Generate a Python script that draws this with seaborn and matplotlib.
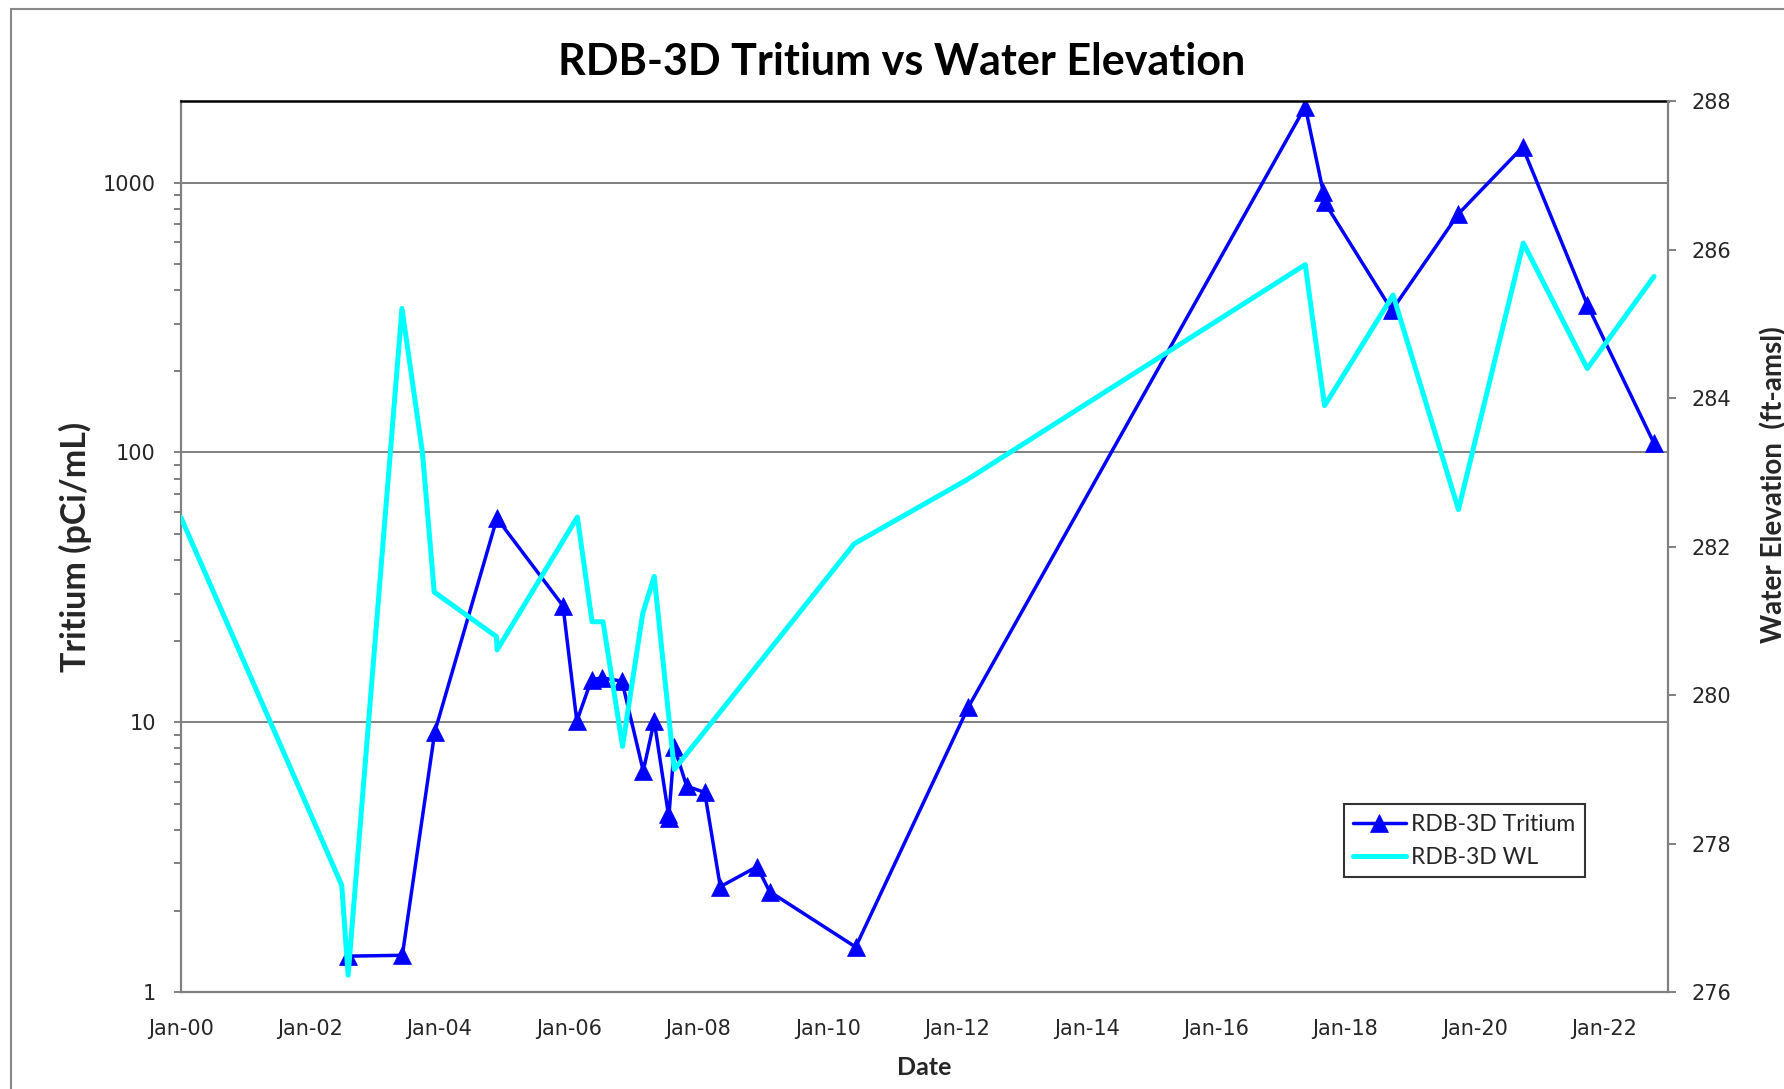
import matplotlib
matplotlib.use('Agg')
import matplotlib.pyplot as plt
import matplotlib.dates as mdates
from matplotlib.ticker import FixedLocator, FuncFormatter, NullFormatter
import pandas as pd
import seaborn as sns

# Tritium samples (pCi/mL)
tritium_dates = ['2002-08-03', '2003-06-05', '2003-12-05', '2004-11-20', '2005-11-28',
                 '2006-02-14', '2006-05-08', '2006-07-08', '2006-10-27', '2007-02-24',
                 '2007-04-27', '2007-07-16', '2007-07-18', '2007-08-18', '2007-10-27',
                 '2008-02-06', '2008-05-04', '2008-11-28', '2009-02-06', '2010-06-07',
                 '2012-03-03', '2017-05-19', '2017-08-29', '2017-09-05', '2018-09-20',
                 '2019-10-01', '2020-09-27', '2021-09-27', '2022-10-09']
tritium_vals = [1.36, 1.37, 9.2, 57, 27,
                10.1, 14.4, 14.6, 14.2, 6.6,
                10.1, 4.56, 4.42, 8.1, 5.8,
                5.5, 2.46, 2.92, 2.36, 1.47,
                11.35, 1910, 920, 845, 336,
                766, 1352, 353, 108]

# Water level (ft-amsl)
wl_dates = ['2000-01-01', '2002-06-28', '2002-08-03', '2003-06-03', '2003-09-27',
            '2003-12-02', '2004-11-17', '2004-11-21', '2006-02-17', '2006-05-11',
            '2006-07-12', '2006-10-30', '2007-02-21', '2007-04-27', '2007-08-18',
            '2010-05-30', '2012-02-24', '2017-05-19', '2017-09-05', '2018-09-27',
            '2019-10-01', '2020-10-01', '2021-09-27', '2022-10-09']
wl_vals = [282.40, 277.44, 276.23, 285.21, 283.26,
           281.39, 280.79, 280.61, 282.40, 280.99,
           280.99, 279.31, 281.10, 281.60, 279.00,
           282.04, 282.90, 285.80, 283.90, 285.39,
           282.50, 286.09, 284.40, 285.64]

series_names = ['RDB-3D Tritium', 'RDB-3D WL']
left_ticks = [1, 10, 100, 1000]
right_ticks = [276, 278, 280, 282, 284, 286, 288]

sns.set_style('white')
plt.rcParams['font.family'] = ['DejaVu Sans']

GRAY = '#808080'
fig = plt.figure(figsize=(17.84, 10.89), dpi=100)
ax = fig.add_axes([0.1013, 0.0889, 0.8335, 0.8181])
ax2 = ax.twinx()

sns.lineplot(x=pd.to_datetime(tritium_dates), y=tritium_vals, ax=ax, color='#0000FF',
             linewidth=2.5, marker='^', markersize=12.5, markeredgecolor='#0000FF',
             markeredgewidth=0.5, estimator=None, sort=False, label=series_names[0])
sns.lineplot(x=pd.to_datetime(wl_dates), y=wl_vals, ax=ax2, color='#00FFFF',
             linewidth=3.6, estimator=None, sort=False, label=series_names[1])

for a in (ax, ax2):
    if a.get_legend() is not None:
        a.get_legend().remove()

# left axis, log
ax.set_yscale('log')
ax.set_ylim(1, 2000)
ax.yaxis.set_major_locator(FixedLocator(left_ticks))
ax.yaxis.set_major_formatter(FuncFormatter(lambda v, p: f'{v:g}'))
minors = [m * d for d in (1, 10, 100, 1000) for m in range(2, 10) if m * d < 2000]
ax.yaxis.set_minor_locator(FixedLocator(minors))
ax.yaxis.set_minor_formatter(NullFormatter())
ax.grid(axis='y', which='major', color=GRAY, linewidth=1.4)
ax.tick_params(axis='y', which='both', direction='out', length=5, width=1.4,
               color=GRAY, labelsize=15, pad=13)

# date axis
ax.set_xlim(pd.Timestamp('2000-01-01'), pd.Timestamp('2022-12-25'))
ax.xaxis.set_major_locator(mdates.YearLocator(2))
ax.xaxis.set_minor_locator(mdates.YearLocator(1))
ax.xaxis.set_major_formatter(mdates.DateFormatter('%b-%y'))
ax.tick_params(axis='x', which='both', direction='inout', length=8.5, width=1.4,
               color=GRAY, labelsize=15, pad=15)

# right axis
ax2.set_ylim(276, 288)
ax2.yaxis.set_major_locator(FixedLocator(right_ticks))
ax2.tick_params(axis='y', direction='out', length=5.5, width=1.4, color=GRAY,
                labelsize=15, pad=12)

for s in ('left', 'bottom'):
    ax.spines[s].set_color(GRAY)
    ax.spines[s].set_linewidth(1.6)
ax.spines['right'].set_visible(False)
ax.spines['top'].set_color('black')
ax.spines['top'].set_linewidth(1.8)
for s in ('left', 'bottom', 'top'):
    ax2.spines[s].set_visible(False)
ax2.spines['right'].set_color(GRAY)
ax2.spines['right'].set_linewidth(1.6)

ax.set_ylabel('Tritium (pCi/mL)', family='Lato', weight='bold', size=24.5)
ax.yaxis.label.set_va('center')
ax.yaxis.set_label_coords(-0.0705, 0.5)
ax2.set_ylabel('Water Elevation  (ft-amsl)', family='Lato', weight='bold', size=20)
ax2.yaxis.label.set_va('center')
ax2.yaxis.set_label_coords(1.0712, 0.57)
ax.set_xlabel('Date', family='Lato', weight='bold', size=18)
ax.xaxis.label.set_va('center')
ax.xaxis.set_label_coords(0.5, -0.084)

fig.text(0.5056, 0.9435, 'RDB-3D Tritium vs Water Elevation', ha='center', va='center',
         family='Lato', weight='bold', size=31, color='black')

h1, l1 = ax.get_legend_handles_labels()
h2, l2 = ax2.get_legend_handles_labels()
leg = ax2.legend(h1 + h2, l1 + l2, loc='upper left', bbox_to_anchor=(0.7532, 0.2613),
                 bbox_transform=fig.transFigure, frameon=True, fancybox=False,
                 edgecolor='black', borderaxespad=0, handlelength=2.3,
                 handletextpad=0.25, labelspacing=0.55,
                 prop={'family': 'Lato', 'size': 16.5})
leg.get_frame().set_linewidth(1.5)

# outer chart border
fig.patches.append(plt.Rectangle((0.0062, -0.1), 1.2, 1.0917, transform=fig.transFigure,
                                 fill=False, edgecolor='#888888', linewidth=1.5))

fig.savefig('out.png', dpi=100)
